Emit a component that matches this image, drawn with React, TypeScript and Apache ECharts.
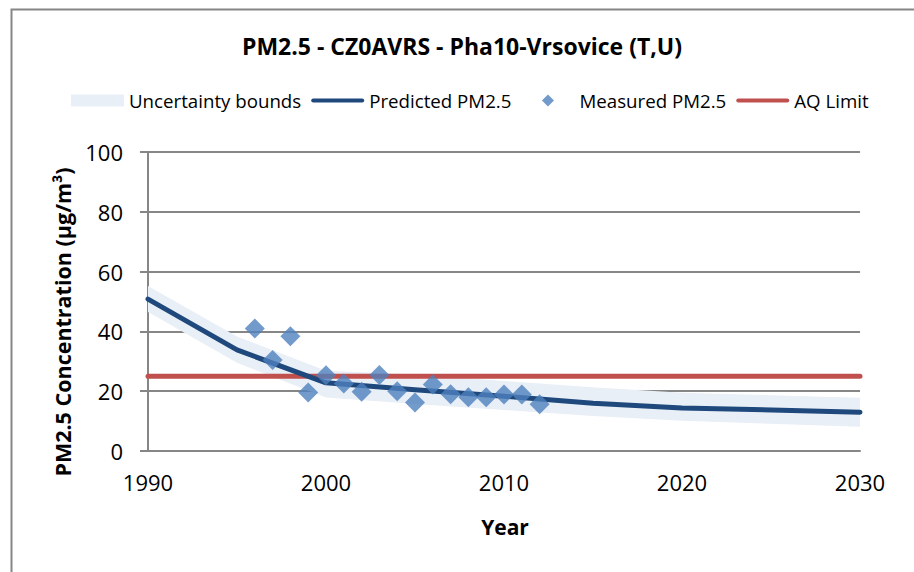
import React, { useEffect, useRef } from "react";
import * as echarts from "echarts";

const chartTitle = "PM2.5 - CZ0AVRS - Pha10-Vrsovice (T,U)";
const xTitle = "Year";
const yTitle = "PM2.5 Concentration (µg/m³)";

const bandYears = [1990, 1995, 2000, 2005, 2010, 2015, 2020, 2030];
const bandLower = [46.5, 29.5, 17.9, 15.7, 13.7, 11.7, 10.1, 8.1];
const bandUpper = [55.2, 38.3, 26.8, 25.6, 23.4, 21.3, 19.5, 17.8];

const predYears = [1990, 1995, 2000, 2005, 2010, 2015, 2020, 2030];
const predicted = [50.8, 33.8, 22.8, 20.5, 18.3, 16.0, 14.4, 13.0];

const measuredYears = [1996, 1997, 1998, 1999, 2000, 2001, 2002, 2003, 2004, 2005, 2006, 2007, 2008, 2009, 2010, 2011, 2012];
const measured = [41.0, 30.4, 38.4, 19.6, 25.3, 22.6, 19.8, 25.4, 20.0, 16.2, 22.2, 19.0, 18.0, 18.0, 18.9, 18.9, 15.6];

const aqYears = [1990, 2030];
const aqLimit = [25, 25];

const FONT = "'Open Sans', sans-serif";
const BAND_COLOR = "#e9eff7";

// legend icons sized exactly to the 53x12 legend key box
const LINE_ICON = "path://M0,0M53,12M2,4L51,4Q53,4 53,6Q53,8 51,8L2,8Q0,8 0,6Q0,4 2,4Z";
const DIAMOND_ICON = "path://M0,0M53,12M26.5,0L32.5,6L26.5,12L20.5,6Z";

export default function App() {
  const ref = useRef<HTMLDivElement>(null);
  useEffect(() => {
    if (!ref.current) return;
    const chart = echarts.init(ref.current, null, { renderer: "svg" });
    const zip = (xs: number[], ys: number[]) => xs.map((x, i) => [x, ys[i]]);
    chart.setOption({
      animation: false,
      backgroundColor: "#ffffff",
      title: {
        text: chartTitle,
        left: 457,
        top: 29,
        textAlign: "center",
        textStyle: { fontFamily: FONT, fontSize: 23, fontWeight: "bold", color: "#000" },
      },
      legend: {
        left: 66,
        top: 86,
        itemWidth: 53,
        itemHeight: 12,
        itemGap: 10,
        itemStyle: { borderWidth: 0 },
        textStyle: { fontFamily: FONT, fontSize: 18.7, color: "#000" },
        data: [
          { name: "Uncertainty bounds", icon: "rect" },
          { name: "Predicted PM2.5", icon: LINE_ICON },
          { name: "Measured PM2.5", icon: DIAMOND_ICON },
          { name: "AQ Limit", icon: LINE_ICON },
        ],
      },
      grid: { left: 148, right: 54, top: 152, bottom: 121, containLabel: false },
      xAxis: {
        type: "value",
        min: 1990,
        max: 2030,
        interval: 10,
        axisLine: { show: true, lineStyle: { color: "#868686", width: 2 } },
        axisTick: { show: false },
        splitLine: { show: false },
        axisLabel: {
          fontFamily: FONT,
          fontSize: 22,
          color: "#000",
          margin: 20,
          formatter: (v: number) => String(v),
        },
      },
      yAxis: {
        type: "value",
        min: 0,
        max: 100,
        interval: 20,
        axisLine: { show: true, lineStyle: { color: "#868686", width: 2 } },
        axisTick: { show: true, length: 8, lineStyle: { color: "#868686", width: 2 } },
        splitLine: { show: true, lineStyle: { color: "#868686", width: 2 } },
        axisLabel: { fontFamily: FONT, fontSize: 22, color: "#000", margin: 25 },
      },
      graphic: [
        {
          type: "rect",
          left: 9,
          top: 7,
          shape: { x: 0, y: 0, width: 1000, height: 1000 },
          style: { fill: "none", stroke: "#868686", lineWidth: 2 },
          silent: true,
          z: -1,
        },
        {
          type: "text",
          x: 505,
          y: 527,
          style: {
            text: xTitle,
            fontFamily: FONT,
            fontSize: 21,
            fontWeight: "bold",
            fill: "#000",
            textAlign: "center",
            textVerticalAlign: "middle",
          },
        },
        {
          type: "text",
          x: 62,
          y: 322,
          rotation: Math.PI / 2,
          style: {
            text: yTitle,
            fontFamily: FONT,
            fontSize: 21.5,
            fontWeight: "bold",
            fill: "#000",
            textAlign: "center",
            textVerticalAlign: "middle",
          },
        },
      ],
      series: [
        {
          name: "Uncertainty bounds",
          type: "custom",
          data: bandYears.map((y, i) => [y, bandLower[i], bandUpper[i]]),
          encode: { x: 0, y: [1, 2] },
          color: BAND_COLOR,
          itemStyle: { color: BAND_COLOR },
          silent: true,
          z: 1,
          renderItem: (params: any, api: any) => {
            if (params.dataIndex !== 0) return null;
            const upper = bandYears.map((y, i) => api.coord([y, bandUpper[i]]));
            const lower = bandYears.map((y, i) => api.coord([y, bandLower[i]])).reverse();
            return {
              type: "polygon",
              shape: { points: upper.concat(lower) },
              style: { fill: BAND_COLOR, stroke: "none" },
            };
          },
        },
        {
          name: "AQ Limit",
          type: "line",
          data: zip(aqYears, aqLimit),
          symbol: "none",
          color: "#c0504d",
          lineStyle: { color: "#c0504d", width: 5, cap: "round" },
          z: 2,
        },
        {
          name: "Predicted PM2.5",
          type: "line",
          data: zip(predYears, predicted),
          symbol: "none",
          color: "#1f497d",
          lineStyle: { color: "#1f497d", width: 5, cap: "round", join: "round" },
          z: 3,
        },
        {
          name: "Measured PM2.5",
          type: "scatter",
          data: zip(measuredYears, measured),
          symbol: "diamond",
          symbolSize: 20,
          color: "#4f81bd",
          itemStyle: { color: "#4f81bd" },
          z: 4,
        },
      ],
    });
    return () => chart.dispose();
  }, []);
  return (
    <div
      ref={ref}
      style={{ position: "absolute", left: 0, top: 0, width: 914, height: 572 }}
    />
  );
}
